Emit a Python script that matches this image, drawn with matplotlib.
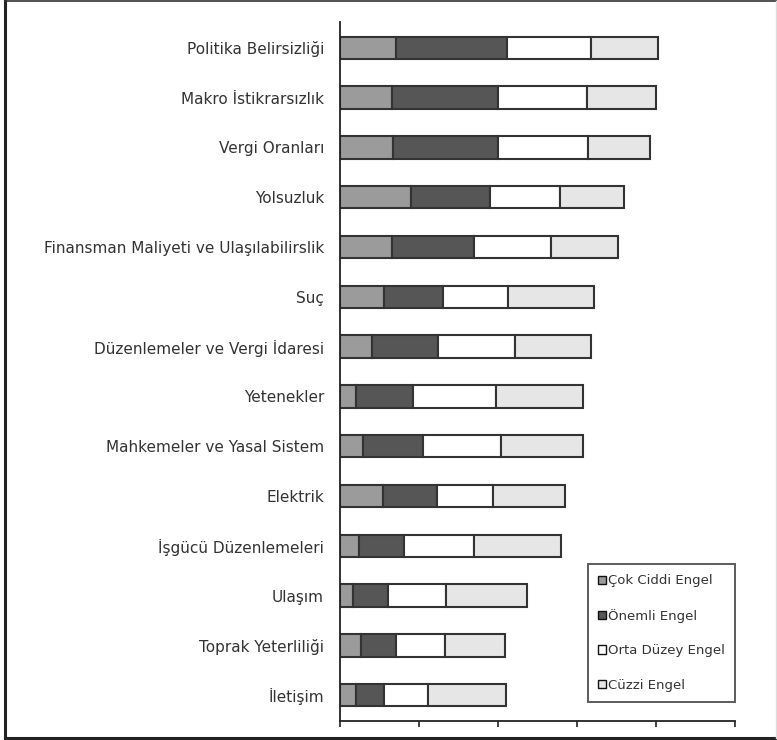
import matplotlib
matplotlib.use("Agg")
import matplotlib.pyplot as plt
from matplotlib.lines import Line2D
import numpy as np

categories = [
    "Politika Belirsizliği",
    "Makro İstikrarsızlık",
    "Vergi Oranları",
    "Yolsuzluk",
    "Finansman Maliyeti ve Ulaşılabilirslik",
    "Suç",
    "Düzenlemeler ve Vergi İdaresi",
    "Yetenekler",
    "Mahkemeler ve Yasal Sistem",
    "Elektrik",
    "İşgücü Düzenlemeleri",
    "Ulaşım",
    "Toprak Yeterliliği",
    "İletişim",
]

cok_ciddi = [14.2, 13.2, 13.5, 18.0, 13.2, 11.2, 8.2, 4.1, 5.8, 11.0, 4.8, 3.4, 5.3, 4.1]
onemli = [28.0, 26.9, 26.6, 19.9, 20.6, 14.9, 16.6, 14.4, 15.3, 13.5, 11.3, 8.7, 9.0, 7.1]
orta_duzey = [21.3, 22.4, 22.8, 17.7, 19.6, 16.4, 19.6, 21.0, 19.6, 14.3, 17.8, 14.7, 12.4, 11.2]
cuzzi = [16.9, 17.6, 15.6, 16.4, 16.9, 21.9, 19.2, 22.1, 20.9, 18.2, 22.0, 20.5, 15.1, 19.5]

series_names = ["Çok Ciddi Engel", "Önemli Engel", "Orta Düzey Engel", "Cüzzi Engel"]
series_values = [cok_ciddi, onemli, orta_duzey, cuzzi]
series_colors = ["#9b9b9b", "#565656", "#ffffff", "#e6e6e6"]

W, H = 777, 740
fig = plt.figure(figsize=(W / 100, H / 100), dpi=100)
ax = fig.add_axes([340 / W, 1 - 721 / H, 395 / W, 699 / H])

y = np.arange(len(categories))
left = np.zeros(len(categories))
for name, vals, col in zip(series_names, series_values, series_colors):
    vals = np.array(vals)
    ax.barh(y, vals, left=left, height=0.45, color=col,
            edgecolor="#333333", linewidth=1.5, label=name)
    left += vals

ax.set_xlim(0, 100)
ax.set_ylim(len(categories) - 0.48, -0.52)
ax.set_xticks(np.arange(0, 101, 20))
ax.set_xticklabels([])
ax.set_yticks(y)
ax.set_yticklabels(categories, fontsize=11, color="#333333")
ax.tick_params(axis="y", length=0, pad=11.5)
ax.tick_params(axis="x", length=4, width=1.2, direction="out", color="#222222")

for s in ("top", "right"):
    ax.spines[s].set_visible(False)
for s in ("left", "bottom"):
    ax.spines[s].set_color("#222222")
    ax.spines[s].set_linewidth(1.3)

leg = ax.legend(loc="lower right", bbox_to_anchor=(1.0, 0.027), borderaxespad=0,
                fontsize=9.5, frameon=True, fancybox=False, handlelength=0.6,
                handleheight=0.6, handletextpad=0.12, labelspacing=1.62,
                borderpad=0.8)
frame = leg.get_frame()
frame.set_edgecolor("#333333")
frame.set_linewidth(1.4)
for t in leg.get_texts():
    t.set_color("#333333")
for h in leg.legend_handles:
    h.set_linewidth(1.0)
    h.set_edgecolor("#111111")

# outer frame around the figure
def px_line(x0, y0, x1, y1, lw, color):
    fig.add_artist(Line2D([x0 / W, x1 / W], [1 - y0 / H, 1 - y1 / H],
                          transform=fig.transFigure, lw=lw, color=color))

px_line(4.5, 1, 4.5, 738.5, 2.2, "#222222")
px_line(4.5, 1.2, 777, 1.2, 1.2, "#333333")
px_line(4.5, 738, 777, 738, 2.2, "#222222")
px_line(776, 1, 776, 738, 1.0, "#dddddd")

fig.savefig("out.png", dpi=100, facecolor="white")
